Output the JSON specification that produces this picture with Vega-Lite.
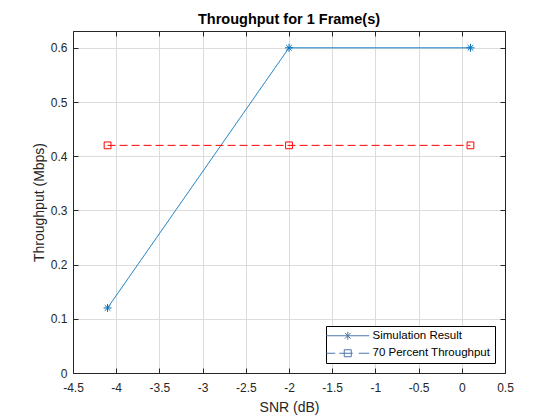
{
  "$schema": "https://vega.github.io/schema/vega-lite/v6.json",
  "width": 432,
  "height": 342,
  "autosize": "none",
  "padding": {"left": 73, "top": 31, "right": 55, "bottom": 47},
  "background": "white",
  "title": {
    "text": "Throughput for 1 Frame(s)",
    "anchor": "middle",
    "font": "Liberation Sans",
    "fontSize": 14.5,
    "fontWeight": "bold",
    "color": "#000000",
    "offset": 3
  },
  "data": {
    "values": [
      {"snr": -4.1, "throughput": 0.12, "series": "Simulation Result"},
      {"snr": -2.0, "throughput": 0.6, "series": "Simulation Result"},
      {"snr": 0.1, "throughput": 0.6, "series": "Simulation Result"},
      {"snr": -4.1, "throughput": 0.42, "series": "70 Percent Throughput"},
      {"snr": -2.0, "throughput": 0.42, "series": "70 Percent Throughput"},
      {"snr": 0.1, "throughput": 0.42, "series": "70 Percent Throughput"}
    ]
  },
  "layer": [
    {
      "mark": {"type": "line", "strokeWidth": 1, "clip": true},
      "encoding": {
        "x": {
          "field": "snr",
          "type": "quantitative",
          "title": "SNR (dB)",
          "scale": {"domain": [-4.5, 0.5], "nice": false, "zero": false},
          "axis": {
            "values": [-4.5, -4, -3.5, -3, -2.5, -2, -1.5, -1, -0.5, 0, 0.5],
            "format": "~g",
            "grid": true,
            "labelFlush": false,
            "labelPadding": 14,
            "titlePadding": 7
          }
        },
        "y": {
          "field": "throughput",
          "type": "quantitative",
          "title": "Throughput (Mbps)",
          "scale": {"domain": [0, 0.631], "nice": false},
          "axis": {
            "values": [0, 0.1, 0.2, 0.3, 0.4, 0.5, 0.6],
            "format": "~g",
            "grid": true,
            "labelFlush": false,
            "labelPadding": 11,
            "titlePadding": 4
          }
        },
        "color": {
          "field": "series",
          "type": "nominal",
          "scale": {
            "domain": ["Simulation Result", "70 Percent Throughput"],
            "range": ["#0072BD", "#FF0000"]
          },
          "legend": null
        },
        "strokeDash": {
          "field": "series",
          "type": "nominal",
          "scale": {
            "domain": ["Simulation Result", "70 Percent Throughput"],
            "range": [[1, 0], [8, 4]]
          },
          "legend": null
        }
      }
    },
    {
      "mark": {"type": "point", "filled": false, "strokeWidth": 1, "size": 64, "opacity": 1},
      "encoding": {
        "x": {
          "field": "snr",
          "type": "quantitative",
          "axis": {
            "orient": "top",
            "values": [-4.5, -4, -3.5, -3, -2.5, -2, -1.5, -1, -0.5, 0, 0.5],
            "labels": false,
            "title": null,
            "grid": false
          }
        },
        "y": {
          "field": "throughput",
          "type": "quantitative",
          "axis": {
            "orient": "right",
            "values": [0, 0.1, 0.2, 0.3, 0.4, 0.5, 0.6],
            "labels": false,
            "title": null,
            "grid": false
          }
        },
        "color": {"field": "series", "type": "nominal", "legend": null},
        "shape": {
          "field": "series",
          "type": "nominal",
          "scale": {
            "domain": ["Simulation Result", "70 Percent Throughput"],
            "range": [
              "M-1,0H1M0,-1V1M-0.7,-0.7L0.7,0.7M-0.7,0.7L0.7,-0.7",
              "M-0.85,-0.85H0.85V0.85H-0.85Z"
            ]
          },
          "legend": null
        }
      }
    },
    {
      "transform": [{"filter": "false"}],
      "mark": {"type": "point", "filled": false, "strokeWidth": 1, "size": 100, "opacity": 1},
      "encoding": {
        "x": {"field": "snr", "type": "quantitative", "axis": null},
        "y": {"field": "throughput", "type": "quantitative", "axis": null},
        "shape": {
          "field": "series",
          "type": "nominal",
          "scale": {
            "domain": ["Simulation Result", "70 Percent Throughput"],
            "range": [
              "M-4.3,0H4.3M0,-0.8V0.8M-0.57,-0.57L0.57,0.57M-0.57,0.57L0.57,-0.57",
              "M-4.3,0H-2.5M-1.7,0H1.0M2.2,0H4.3M-0.7,-0.7H0.7V0.7H-0.7Z"
            ]
          },
          "legend": {
            "title": null,
            "orient": "bottom-right",
            "offset": 10,
            "padding": 4,
            "fillColor": "white",
            "strokeColor": "#000000",
            "symbolSize": 100,
            "symbolStrokeWidth": 1,
            "symbolOffset": 12,
            "labelOffset": 19,
            "rowPadding": 4.5,
            "labelFont": "Liberation Sans",
            "labelFontSize": 11.5,
            "labelColor": "#000000",
            "labelLimit": 300,
            "encode": {
              "symbols": {
                "update": {
                  "stroke": {"signal": "datum.value === 'Simulation Result' ? '#0072BD' : '#FF0000'"},
                  "fill": {"value": "transparent"}
                }
              }
            }
          }
        }
      }
    }
  ],
  "resolve": {
    "scale": {"shape": "independent"},
    "axis": {"x": "independent", "y": "independent"}
  },
  "config": {
    "locale": {
      "number": {
        "decimal": ".",
        "thousands": ",",
        "grouping": [3],
        "currency": ["$", ""],
        "minus": "-"
      }
    },
    "view": {"stroke": null},
    "axis": {
      "domainColor": "#262626",
      "tickColor": "#262626",
      "tickSize": -5,
      "labelColor": "#262626",
      "labelFont": "Liberation Sans",
      "labelFontSize": 12,
      "titleFont": "Liberation Sans",
      "titleFontSize": 14,
      "titleFontWeight": "normal",
      "titleColor": "#262626",
      "gridColor": "#dcdcdc",
      "gridWidth": 1
    }
  }
}
